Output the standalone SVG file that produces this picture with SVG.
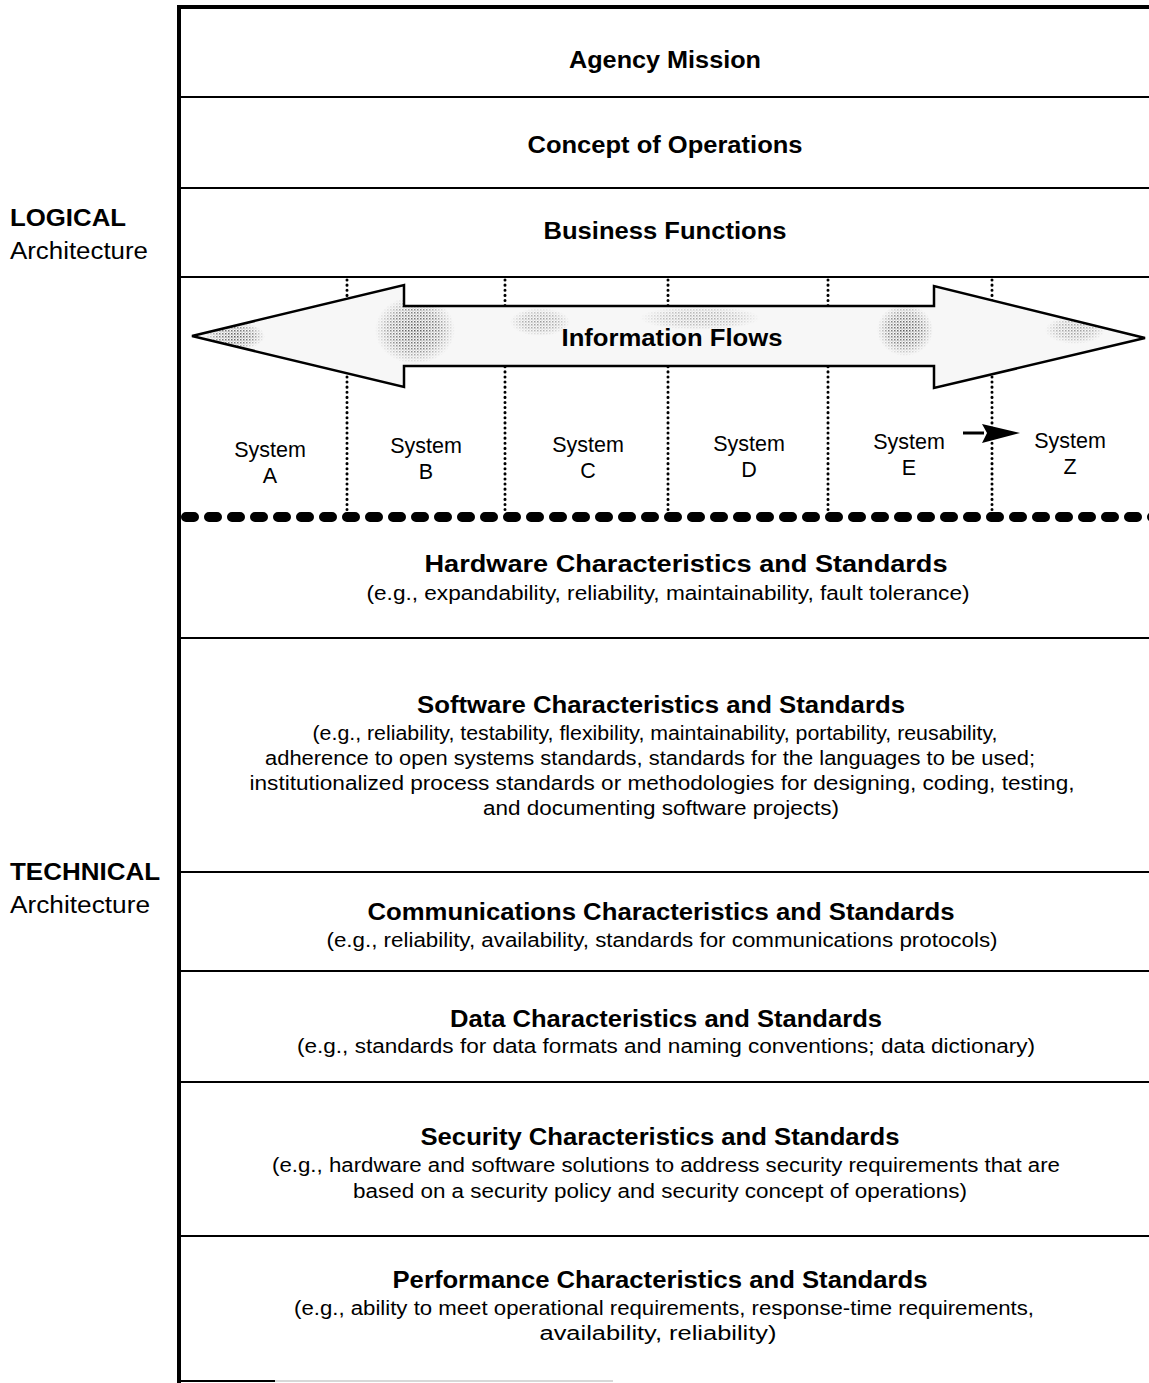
<svg xmlns="http://www.w3.org/2000/svg" width="1149" height="1383" viewBox="0 0 1149 1383">
<defs>
<style>
text{font-family:"Liberation Sans",Arial,Helvetica,sans-serif;fill:#000;text-anchor:middle}
.h{font-weight:bold;font-size:23.5px}
.s{font-size:20px}
.sys{font-size:21.5px}
.side{text-anchor:start;font-size:23px}
.rule{stroke:#000;stroke-width:2;fill:none}
.vdot{stroke:#000;stroke-width:3;stroke-dasharray:0.1 5;stroke-linecap:round;fill:none}
</style>
<pattern id="stip" width="3" height="3" patternUnits="userSpaceOnUse">
<rect width="3" height="3" fill="none"/>
<rect x="0" y="0" width="1.5" height="1.5" fill="#555"/>
<rect x="1.5" y="1.5" width="1" height="1" fill="#777"/>
</pattern>
<radialGradient id="fade">
<stop offset="0" stop-color="#fff" stop-opacity="1"/>
<stop offset="0.6" stop-color="#fff" stop-opacity="0.7"/>
<stop offset="1" stop-color="#fff" stop-opacity="0"/>
</radialGradient>
<mask id="patches">
<rect x="0" y="0" width="1149" height="1383" fill="#000"/>
<ellipse cx="235" cy="336" rx="30" ry="14" fill="url(#fade)"/>
<ellipse cx="415" cy="330" rx="40" ry="34" fill="url(#fade)"/>
<ellipse cx="540" cy="322" rx="30" ry="14" fill="url(#fade)" opacity="0.6"/>
<ellipse cx="700" cy="318" rx="60" ry="12" fill="url(#fade)" opacity="0.5"/>
<ellipse cx="905" cy="330" rx="28" ry="26" fill="url(#fade)"/>
<ellipse cx="1075" cy="330" rx="30" ry="14" fill="url(#fade)" opacity="0.6"/>
</mask>
<clipPath id="arrowclip">
<polygon points="192,336 404,285 404,306 934,306 934,286 1145,338 934,388 934,366 404,366 404,387"/>
</clipPath>
</defs>
<rect width="1149" height="1383" fill="#fff"/>

<g id="frame">
<line x1="177" y1="7" x2="1149" y2="7" stroke="#000" stroke-width="4"/>
<line x1="179" y1="5" x2="179" y2="1383" stroke="#000" stroke-width="4"/>
<line class="rule" x1="180" y1="97" x2="1149" y2="97"/>
<line class="rule" x1="180" y1="188" x2="1149" y2="188"/>
<line class="rule" x1="180" y1="277" x2="1149" y2="277"/>
<line class="rule" x1="180" y1="638" x2="1149" y2="638"/>
<line class="rule" x1="180" y1="872" x2="1149" y2="872"/>
<line class="rule" x1="180" y1="971" x2="1149" y2="971"/>
<line class="rule" x1="180" y1="1082" x2="1149" y2="1082"/>
<line class="rule" x1="180" y1="1236" x2="1149" y2="1236"/>
<line x1="180" y1="1381" x2="275" y2="1381" stroke="#000" stroke-width="2"/>
<line x1="275" y1="1381" x2="613" y2="1381" stroke="#d8d8d8" stroke-width="2"/>
</g>

<g id="side-labels">
<text class="side" x="10" y="226" font-weight="bold" textLength="116" lengthAdjust="spacingAndGlyphs">LOGICAL</text>
<text class="side" x="10" y="259" textLength="138" lengthAdjust="spacingAndGlyphs">Architecture</text>
<text class="side" x="10" y="880" font-weight="bold" textLength="150" lengthAdjust="spacingAndGlyphs">TECHNICAL</text>
<text class="side" x="10" y="913" textLength="140" lengthAdjust="spacingAndGlyphs">Architecture</text>
</g>

<g id="agency-mission"><text class="h" x="665" y="68" textLength="192" lengthAdjust="spacingAndGlyphs">Agency Mission</text></g>
<g id="concept-of-operations"><text class="h" x="665" y="153" textLength="275" lengthAdjust="spacingAndGlyphs">Concept of Operations</text></g>
<g id="business-functions"><text class="h" x="665" y="239" textLength="243" lengthAdjust="spacingAndGlyphs">Business Functions</text></g>

<g id="connectors">
<line class="vdot" x1="347" y1="280" x2="347" y2="514"/>
<line class="vdot" x1="505" y1="280" x2="505" y2="514"/>
<line class="vdot" x1="668" y1="280" x2="668" y2="514"/>
<line class="vdot" x1="828" y1="280" x2="828" y2="514"/>
<line class="vdot" x1="992" y1="280" x2="992" y2="514"/>
<line x1="186" y1="517" x2="1160" y2="517" stroke="#000" stroke-width="10" stroke-dasharray="8 15" stroke-linecap="round"/>
<line x1="963" y1="433" x2="984" y2="433" stroke="#000" stroke-width="3"/>
<polygon points="982,424 1020,433 982,443 987,433" fill="#000"/>
</g>

<g id="information-flows">
<polygon points="192,336 404,285 404,306 934,306 934,286 1145,338 934,388 934,366 404,366 404,387" fill="#f7f7f7"/>
<rect x="180" y="280" width="969" height="115" fill="url(#stip)" mask="url(#patches)" clip-path="url(#arrowclip)"/>
<polygon points="192,336 404,285 404,306 934,306 934,286 1145,338 934,388 934,366 404,366 404,387" fill="none" stroke="#000" stroke-width="2.5" stroke-linejoin="miter"/>
<text class="h" x="672" y="346" textLength="221" lengthAdjust="spacingAndGlyphs">Information Flows</text>
</g>

<g id="system-a"><text class="sys" x="270" y="457">System</text><text class="sys" x="270" y="483">A</text></g>
<g id="system-b"><text class="sys" x="426" y="453">System</text><text class="sys" x="426" y="479">B</text></g>
<g id="system-c"><text class="sys" x="588" y="452">System</text><text class="sys" x="588" y="478">C</text></g>
<g id="system-d"><text class="sys" x="749" y="451">System</text><text class="sys" x="749" y="477">D</text></g>
<g id="system-e"><text class="sys" x="909" y="449">System</text><text class="sys" x="909" y="475">E</text></g>
<g id="system-z"><text class="sys" x="1070" y="448">System</text><text class="sys" x="1070" y="474">Z</text></g>

<g id="hardware">
<text class="h" x="686" y="572" textLength="523" lengthAdjust="spacingAndGlyphs">Hardware Characteristics and Standards</text>
<text class="s" x="668" y="600" textLength="603" lengthAdjust="spacingAndGlyphs">(e.g., expandability, reliability, maintainability, fault tolerance)</text>
</g>

<g id="software">
<text class="h" x="661" y="713" textLength="488" lengthAdjust="spacingAndGlyphs">Software Characteristics and Standards</text>
<text class="s" x="655" y="740" textLength="685" lengthAdjust="spacingAndGlyphs">(e.g., reliability, testability, flexibility, maintainability, portability, reusability,</text>
<text class="s" x="650" y="765" textLength="770" lengthAdjust="spacingAndGlyphs">adherence to open systems standards, standards for the languages to be used;</text>
<text class="s" x="662" y="790" textLength="825" lengthAdjust="spacingAndGlyphs">institutionalized process standards or methodologies for designing, coding, testing,</text>
<text class="s" x="661" y="815" textLength="356" lengthAdjust="spacingAndGlyphs">and documenting software projects)</text>
</g>

<g id="communications">
<text class="h" x="661" y="920" textLength="587" lengthAdjust="spacingAndGlyphs">Communications Characteristics and Standards</text>
<text class="s" x="662" y="947" textLength="671" lengthAdjust="spacingAndGlyphs">(e.g., reliability, availability, standards for communications protocols)</text>
</g>

<g id="data">
<text class="h" x="666" y="1027" textLength="432" lengthAdjust="spacingAndGlyphs">Data Characteristics and Standards</text>
<text class="s" x="666" y="1053" textLength="738" lengthAdjust="spacingAndGlyphs">(e.g., standards for data formats and naming conventions; data dictionary)</text>
</g>

<g id="security">
<text class="h" x="660" y="1145" textLength="479" lengthAdjust="spacingAndGlyphs">Security Characteristics and Standards</text>
<text class="s" x="666" y="1172" textLength="788" lengthAdjust="spacingAndGlyphs">(e.g., hardware and software solutions to address security requirements that are</text>
<text class="s" x="660" y="1198" textLength="614" lengthAdjust="spacingAndGlyphs">based on a security policy and security concept of operations)</text>
</g>

<g id="performance">
<text class="h" x="660" y="1288" textLength="535" lengthAdjust="spacingAndGlyphs">Performance Characteristics and Standards</text>
<text class="s" x="664" y="1315" textLength="740" lengthAdjust="spacingAndGlyphs">(e.g., ability to meet operational requirements, response-time requirements,</text>
<text class="s" x="658" y="1340" textLength="237" lengthAdjust="spacingAndGlyphs">availability, reliability)</text>
</g>
</svg>
